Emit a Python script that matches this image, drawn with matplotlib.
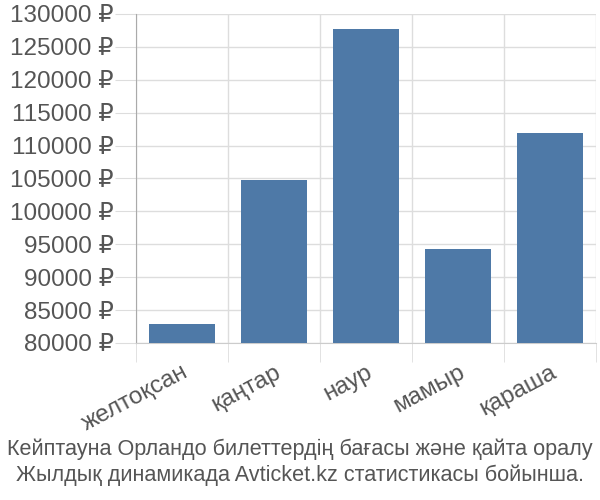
import matplotlib
matplotlib.use("Agg")
import matplotlib.pyplot as plt
from matplotlib.ticker import FixedLocator

plt.rcParams['font.family'] = ['Liberation Sans', 'DejaVu Sans']

months = ['желтоқсан', 'қаңтар', 'наур', 'мамыр', 'қараша']
prices = [82950, 104800, 127700, 94350, 111900]
yticks = list(range(80000, 130001, 5000))
caption = ("Кейптауна Орландо билеттердің бағасы және қайта оралу\n"
           "Жылдық динамикада Avticket.kz статистикасы бойынша.")

fig = plt.figure(figsize=(6, 5), dpi=100)
ax = fig.add_axes([0.2267, 0.314, 0.7666, 0.658])

x = list(range(len(months)))
ax.bar(x, prices, width=0.72, color='#4e79a7', zorder=3)

ax.set_xlim(-0.5, len(months) - 0.5)
ax.set_ylim(80000, 130000)

ax.set_yticks(yticks)
ax.set_yticklabels([f'{v} ₽' for v in yticks])
ax.set_xticks(x)
ax.set_xticklabels(months, rotation=28, ha='right', rotation_mode='anchor')
ax.xaxis.set_minor_locator(FixedLocator([i + 0.5 for i in range(-1, len(months))]))

ax.tick_params(axis='y', length=15, color='#dddddd', labelsize=17.5,
               labelcolor='#555555', pad=1)
ax.tick_params(axis='x', which='major', length=0, labelsize=17.5,
               labelcolor='#555555', pad=13)
ax.tick_params(axis='x', which='minor', length=14, color='#dddddd')

ax.grid(axis='y', color='#dddddd', linewidth=1, zorder=0)
ax.grid(axis='x', which='minor', color='#dddddd', linewidth=1, zorder=0)

for side in ['top', 'right']:
    ax.spines[side].set_visible(False)
ax.spines['left'].set_color('#aaaaaa')
ax.spines['bottom'].set_color('#cccccc')

fig.text(0.5, 0.028, caption, ha='center', va='bottom', fontsize=15.6,
         color='#555555', linespacing=1.3)

fig.savefig('out.png', dpi=100)
